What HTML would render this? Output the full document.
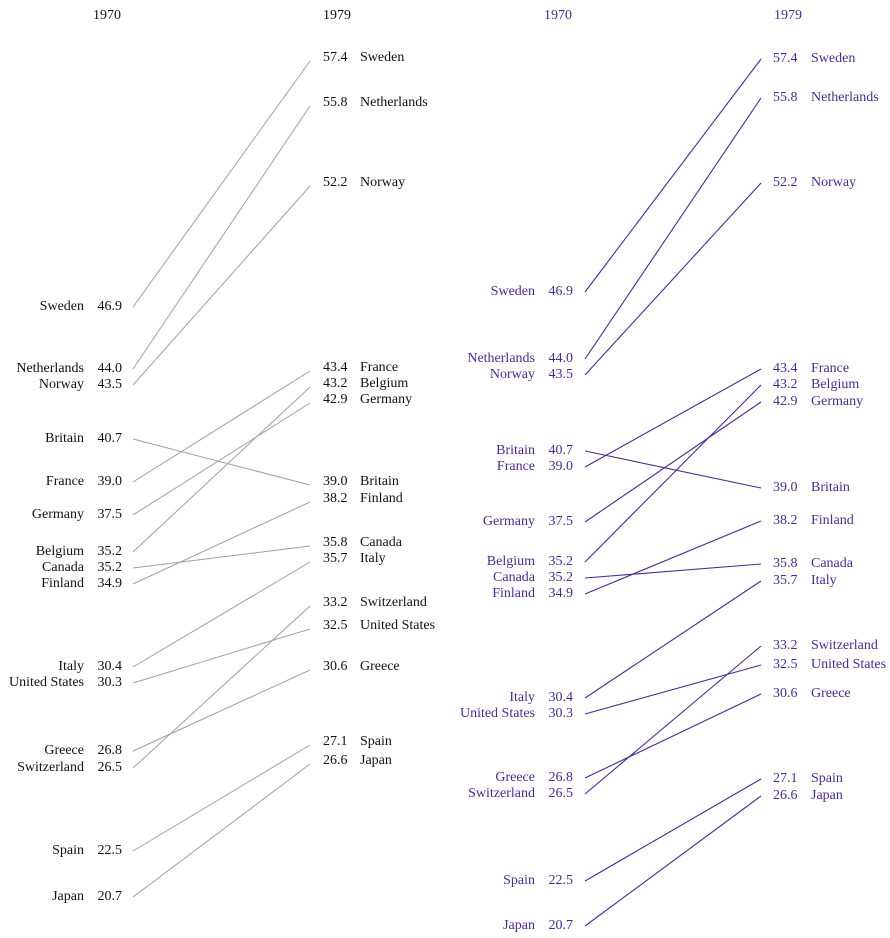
<!DOCTYPE html>
<html><head><meta charset="utf-8"><style>
html,body{margin:0;padding:0;background:#fff}
svg text{font-family:"Liberation Serif",serif;font-size:14px}
.l text{fill:#111}
.r text{fill:#4b2a90}
</style></head><body>
<svg width="890" height="933" viewBox="0 0 890 933" xmlns="http://www.w3.org/2000/svg">
<g class="l" id="L"></g>
<g class="r" id="R"></g>
<script>
var data=[
["Sweden",46.9,57.4,306,57,291,58],
["Netherlands",44.0,55.8,368,102,358,97],
["Norway",43.5,52.2,384,182,374,182],
["Britain",40.7,39.0,438,481,450,487],
["France",39.0,43.4,481,367,466,368],
["Germany",37.5,42.9,514,399,521,401],
["Belgium",35.2,43.2,551,383,561,384],
["Canada",35.2,35.8,567,542,577,563],
["Finland",34.9,38.2,583,498,593,520],
["Italy",30.4,35.7,666,558,697,580],
["United States",30.3,32.5,682,625,713,664],
["Greece",26.8,30.6,750,666,777,693],
["Switzerland",26.5,33.2,767,602,793,645],
["Spain",22.5,27.1,850,741,880,778],
["Japan",20.7,26.6,896,760,925,795]];
var NS="http://www.w3.org/2000/svg";
function t(g,x,y,s,a){var e=document.createElementNS(NS,"text");e.setAttribute("x",x);e.setAttribute("y",y);if(a)e.setAttribute("text-anchor",a);e.textContent=s;g.appendChild(e);}
function ln(g,x1,y1,x2,y2,c,w){var e=document.createElementNS(NS,"line");e.setAttribute("x1",x1);e.setAttribute("y1",y1);e.setAttribute("x2",x2);e.setAttribute("y2",y2);e.setAttribute("stroke",c);e.setAttribute("stroke-width",w);g.appendChild(e);}
var L=document.getElementById("L"),R=document.getElementById("R");
t(L,107,19,"1970","middle");t(L,323,19,"1979");
t(R,558,19,"1970","middle");t(R,774,19,"1979");
data.forEach(function(d){
 ln(L,133,d[3]+1,310,d[4]+4,"#a0a0a0",1);
 t(L,84,d[3]+4,d[0],"end");t(L,122,d[3]+4,d[1].toFixed(1),"end");
 t(L,323,d[4]+4,d[2].toFixed(1));t(L,360,d[4]+4,d[0]);
 ln(R,585,d[5]+1,761,d[6]+1,"#4b2a90",1.1);
 t(R,535,d[5]+4,d[0],"end");t(R,573,d[5]+4,d[1].toFixed(1),"end");
 t(R,773,d[6]+4,d[2].toFixed(1));t(R,811,d[6]+4,d[0]);
});
</script>
</svg>
</body></html>
